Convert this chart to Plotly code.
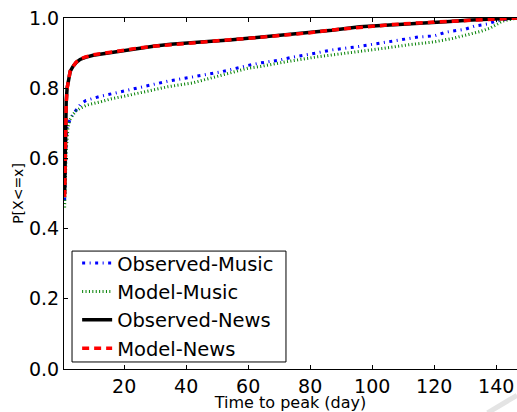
import plotly.graph_objects as go

# ---- data ----
news_x = [0.8, 1.0, 1.3, 1.6, 2.0, 2.6, 3.5, 4.5, 5.8, 7.5, 10, 15, 20, 25, 30, 35, 40, 47, 54, 60, 64,
          71, 80, 87, 96, 106, 115, 120, 125, 132, 140, 147]
obs_news = [0.50, 0.64, 0.76, 0.80, 0.825, 0.848, 0.862, 0.873, 0.882, 0.888, 0.894, 0.901, 0.907, 0.914,
            0.920, 0.925, 0.929, 0.933, 0.937, 0.942, 0.946, 0.950, 0.958, 0.965, 0.975, 0.981, 0.985,
            0.988, 0.990, 0.994, 0.997, 1.0]
model_news = [0.49, 0.63, 0.75, 0.80, 0.826, 0.849, 0.862, 0.874, 0.883, 0.889, 0.895, 0.902, 0.908, 0.915,
              0.920, 0.924, 0.929, 0.934, 0.938, 0.942, 0.945, 0.951, 0.958, 0.966, 0.974, 0.981, 0.986,
              0.988, 0.991, 0.994, 0.997, 1.0]

obs_music_x = [0.8, 1.0, 1.3, 1.6, 2.5, 3.5, 4.8, 6, 7.7, 10, 12.3, 16.5, 20, 25, 30, 34, 42, 51, 60, 64,
               70, 74, 80, 87, 95, 102, 110, 115, 120, 124, 130, 133, 137, 140, 143, 145.5, 147]
obs_music = [0.48, 0.60, 0.65, 0.69, 0.71, 0.726, 0.74, 0.755, 0.765, 0.772, 0.777, 0.785, 0.792, 0.80,
             0.81, 0.82, 0.832, 0.846, 0.865, 0.872, 0.880, 0.888, 0.897, 0.909, 0.918, 0.928, 0.938,
             0.946, 0.949, 0.96, 0.968, 0.977, 0.983, 0.991, 0.996, 1.0, 1.0]

model_music_x = [0.8, 1.0, 1.3, 1.9, 2.5, 3.5, 4.5, 5.8, 8, 12.3, 16, 20, 25, 30, 34, 42, 51, 60, 64, 72,
                 82, 93, 104, 112, 120, 126, 131, 135, 138, 140, 142, 145, 147]
model_music = [0.46, 0.55, 0.62, 0.69, 0.71, 0.725, 0.735, 0.743, 0.752, 0.761, 0.770, 0.777, 0.786, 0.795,
               0.804, 0.815, 0.835, 0.857, 0.862, 0.875, 0.889, 0.901, 0.914, 0.924, 0.932, 0.942, 0.952,
               0.962, 0.971, 0.98, 0.991, 0.997, 1.0]

x_ticks = [20, 40, 60, 80, 100, 120, 140]
y_ticks = [0.0, 0.2, 0.4, 0.6, 0.8, 1.0]

FONT = "DejaVu Sans"

fig = go.Figure()
fig.add_trace(go.Scatter(x=obs_music_x, y=obs_music, mode="lines", name="Observed-Music",
                         line=dict(color="#0000ff", width=3, dash="3px,4.5px,1px,4.5px")))
fig.add_trace(go.Scatter(x=model_music_x, y=model_music, mode="lines", name="Model-Music",
                         line=dict(color="#008000", width=3, dash="1px,2.4px")))
fig.add_trace(go.Scatter(x=news_x, y=obs_news, mode="lines", name="Observed-News",
                         line=dict(color="#000000", width=3.5)))
fig.add_trace(go.Scatter(x=news_x, y=model_news, mode="lines", name="Model-News",
                         line=dict(color="#ff0000", width=3.5, dash="7px,5px")))

axis_common = dict(showgrid=False, zeroline=False, showline=True, linecolor="#000000", linewidth=1,
                   ticks="inside", ticklen=4, tickcolor="#000000", automargin=False,
                   tickfont=dict(family=FONT, size=19, color="#000000"))

fig.update_layout(
    width=517, height=412,
    margin=dict(l=64, r=0, t=18, b=43),
    paper_bgcolor="white", plot_bgcolor="white",
    font=dict(family=FONT, color="#000000"),
    xaxis=dict(range=[0.6, 146.7], tickvals=x_ticks, mirror="ticks",
               title=dict(text="Time to peak (day)", font=dict(family=FONT, size=16), standoff=1),
               **axis_common),
    yaxis=dict(range=[0, 1], tickvals=y_ticks, tickformat=".1f",
               title=dict(text="P[X<=x]", font=dict(family=FONT, size=14), standoff=2),
               **axis_common),
    legend=dict(x=0.029, y=0.003, xanchor="left", yanchor="bottom",
                borderwidth=0, bgcolor="rgba(0,0,0,0)",
                font=dict(family=FONT, size=19.5), itemwidth=30, tracegroupgap=0),
    showlegend=True,
    shapes=[
        dict(type="rect", xref="paper", yref="paper", x0=0.0177, x1=0.490, y0=0.020, y1=0.336,
             line=dict(color="#000000", width=1), fillcolor="white", layer="below"),
        dict(type="line", xref="paper", yref="paper", x0=0.935, y0=-0.125, x1=1.0, y1=-0.075,
             line=dict(color="#e4e4e4", width=5)),
    ],
)

fig.write_html("out.html", config={"displayModeBar": False},
               post_script="document.body.style.margin='0';document.body.style.overflow='hidden';")
